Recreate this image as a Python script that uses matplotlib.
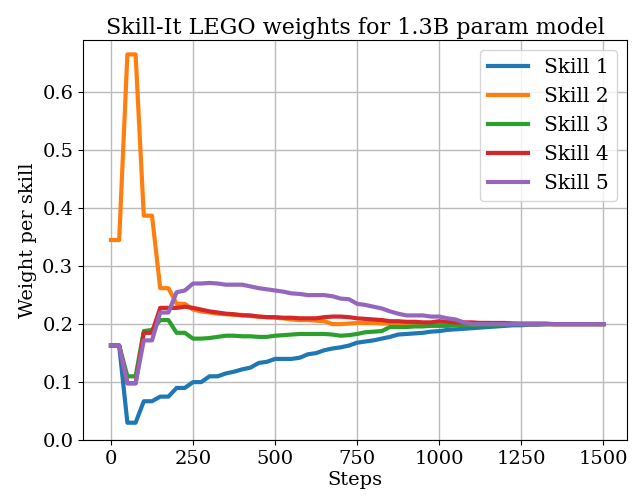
import numpy as np
import matplotlib
matplotlib.use("Agg")
import matplotlib.pyplot as plt

plt.rcParams['font.family'] = 'DejaVu Serif'

steps = list(range(0, 1501, 25))

skill1 = [0.163, 0.163, 0.03, 0.03, 0.067, 0.067, 0.075, 0.075, 0.09, 0.09,
          0.1, 0.1, 0.11, 0.11, 0.115, 0.118, 0.122, 0.125, 0.133, 0.135,
          0.14, 0.14, 0.14, 0.142, 0.148, 0.15, 0.155, 0.158, 0.16, 0.163,
          0.168, 0.17, 0.172, 0.175, 0.178, 0.182, 0.183, 0.184, 0.185, 0.187,
          0.188, 0.19, 0.191, 0.192, 0.193, 0.194, 0.195, 0.196, 0.197, 0.198,
          0.198, 0.199, 0.199, 0.2, 0.2, 0.2, 0.2, 0.2, 0.2, 0.2, 0.2]
skill2 = [0.345, 0.345, 0.665, 0.665, 0.387, 0.387, 0.262, 0.262, 0.235, 0.235,
          0.225, 0.222, 0.22, 0.218, 0.217, 0.216, 0.216, 0.214, 0.213, 0.212,
          0.211, 0.21, 0.208, 0.207, 0.207, 0.206, 0.205, 0.2, 0.2, 0.201,
          0.202, 0.202, 0.202, 0.201, 0.201, 0.201, 0.201, 0.2, 0.201, 0.201,
          0.202, 0.202, 0.201, 0.201, 0.201, 0.202, 0.202, 0.201, 0.201, 0.201,
          0.2, 0.2, 0.2, 0.2, 0.2, 0.2, 0.2, 0.2, 0.2, 0.2, 0.2]
skill3 = [0.163, 0.163, 0.11, 0.11, 0.188, 0.19, 0.207, 0.207, 0.185, 0.185,
          0.175, 0.175, 0.176, 0.178, 0.18, 0.18, 0.179, 0.179, 0.178, 0.178,
          0.18, 0.181, 0.182, 0.183, 0.183, 0.183, 0.183, 0.182, 0.18, 0.181,
          0.183, 0.186, 0.187, 0.188, 0.195, 0.195, 0.195, 0.196, 0.196, 0.197,
          0.197, 0.197, 0.198, 0.198, 0.198, 0.199, 0.199, 0.199, 0.2, 0.2,
          0.2, 0.2, 0.2, 0.2, 0.2, 0.2, 0.2, 0.2, 0.2, 0.2, 0.2]
skill4 = [0.163, 0.163, 0.098, 0.098, 0.185, 0.185, 0.228, 0.228, 0.228, 0.23,
          0.228, 0.225, 0.222, 0.22, 0.218, 0.217, 0.215, 0.215, 0.213, 0.212,
          0.212, 0.211, 0.211, 0.21, 0.21, 0.21, 0.212, 0.213, 0.213, 0.212,
          0.21, 0.209, 0.208, 0.207, 0.205, 0.205, 0.204, 0.204, 0.203, 0.203,
          0.205, 0.204, 0.203, 0.203, 0.203, 0.202, 0.202, 0.202, 0.202, 0.201,
          0.201, 0.201, 0.201, 0.201, 0.2, 0.2, 0.2, 0.2, 0.2, 0.2, 0.2]
skill5 = [0.163, 0.163, 0.098, 0.098, 0.172, 0.172, 0.22, 0.22, 0.255, 0.258,
          0.27, 0.27, 0.271, 0.27, 0.268, 0.268, 0.268, 0.265, 0.262, 0.26,
          0.258, 0.256, 0.253, 0.252, 0.25, 0.25, 0.25, 0.248, 0.244, 0.243,
          0.235, 0.233, 0.23, 0.227, 0.222, 0.218, 0.215, 0.215, 0.215, 0.213,
          0.213, 0.21, 0.208, 0.203, 0.2, 0.2, 0.2, 0.2, 0.2, 0.2,
          0.2, 0.2, 0.2, 0.2, 0.2, 0.2, 0.2, 0.2, 0.2, 0.2, 0.2]

series = [skill1, skill2, skill3, skill4, skill5]
names = ["Skill 1", "Skill 2", "Skill 3", "Skill 4", "Skill 5"]

fig, ax = plt.subplots(figsize=(6.44, 4.99), dpi=100)
for vals, name in zip(series, names):
    ax.plot(steps, vals, lw=3, label=name)

ax.set_title("Skill-It LEGO weights for 1.3B param model", fontsize=16, pad=4)
ax.set_xlabel("Steps", fontsize=14, labelpad=2)
ax.set_ylabel("Weight per skill", fontsize=14)
ax.set_ylim(0, 0.69)
ax.set_xlim(-85, 1573)
ax.set_yticks([0, 0.1, 0.2, 0.3, 0.4, 0.5, 0.6])
ax.set_xticks([0, 250, 500, 750, 1000, 1250, 1500])
ax.tick_params(labelsize=14)
ax.grid(True, color='#bbbbbb', lw=1)
ax.legend(fontsize=14.5, loc='upper right')
fig.subplots_adjust(left=0.129, right=0.974, top=0.92, bottom=0.118)
fig.savefig("out.png")
